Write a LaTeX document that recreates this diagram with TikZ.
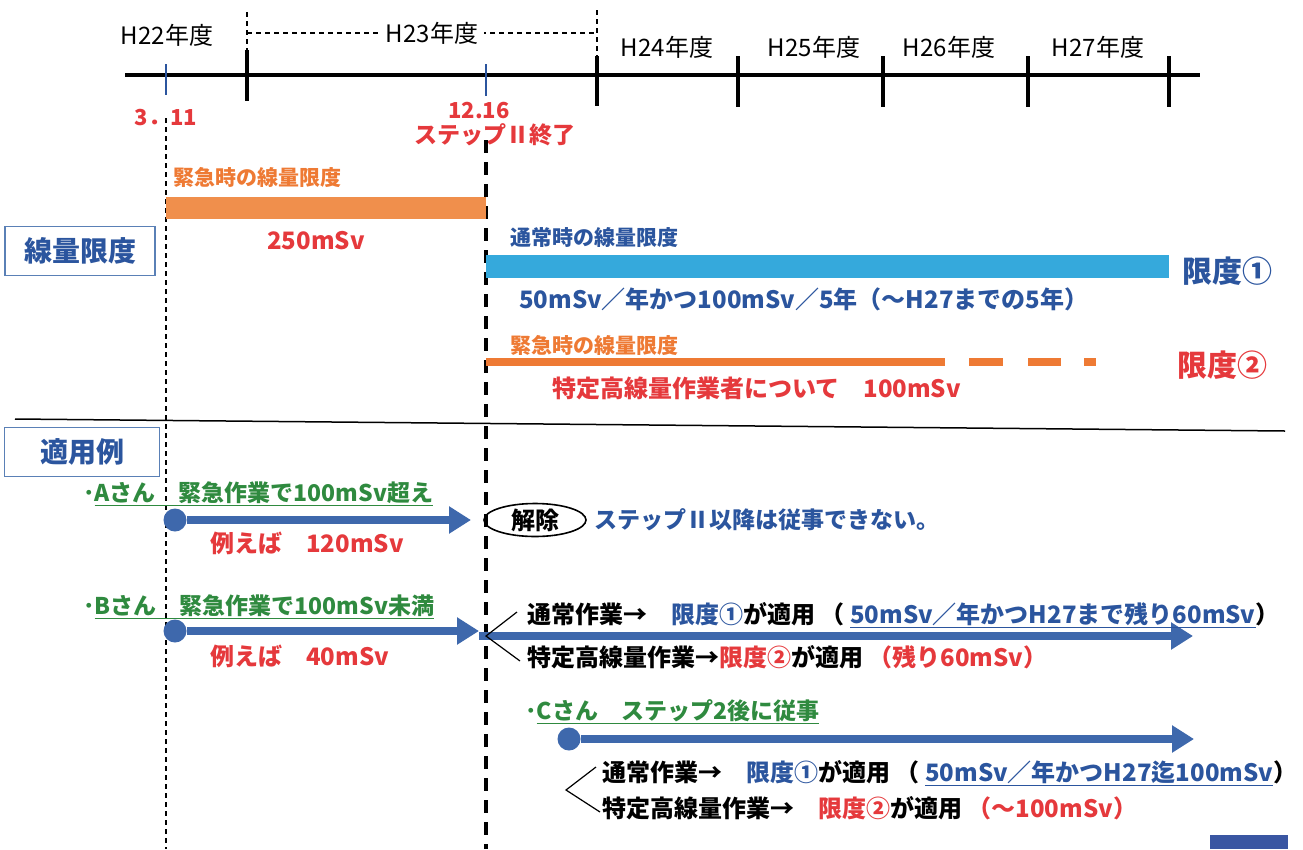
\documentclass[tikz,border=0pt]{standalone}
\usepackage{fontspec}
\setmainfont{Noto Sans CJK JP}
\usetikzlibrary{arrows.meta}
\usetikzlibrary{shapes.geometric}
\definecolor{azul}{HTML}{2B559E}
\definecolor{marco}{HTML}{5A80B6}
\definecolor{celeste}{HTML}{35A9DC}
\definecolor{naranja}{HTML}{F08F4C}
\definecolor{naranjaT}{HTML}{EE7A34}
\definecolor{rojo}{HTML}{E5393C}
\definecolor{verde}{HTML}{2F8A3F}
\definecolor{flecha}{HTML}{3E68AC}
\definecolor{azulosc}{HTML}{3A56A2}
\begin{document}
\begin{tikzpicture}[x=1pt,y=-1pt,
	anio/.style={font=\fontsize{24}{28}\selectfont, inner sep=0pt},
	tx/.style={font=\bfseries\fontsize{#1}{#1}\selectfont, inner sep=0pt, anchor=west},
	tx/.default=24,
	caja/.style={draw=marco, line width=1.5pt, minimum width=#1, minimum height=49pt, inner sep=0pt, text=azul, font=\bfseries\fontsize{28}{28}\selectfont},
	punto/.style={circle, fill=flecha, minimum size=23pt, inner sep=0pt},
	flechaG/.style={line width=8pt, draw=flecha, -{Triangle[length=22pt,width=26pt]}},
	guion/.style={dash pattern=on 5pt off 4pt, line width=1.3pt},
	guionG/.style={dash pattern=on 13pt off 9pt, line width=3.2pt}]
	\useasboundingbox (0,0) rectangle (1303,849);
	\draw[line width=4pt] (125,75) -- (1200,75); %eje de tiempo
	\draw[line width=4pt] (247,50) -- (247,101); %marcas de año
	\draw[line width=4pt] (597,56) -- (597,106);
	\draw[line width=4pt] (738,56) -- (738,107);
	\draw[line width=4pt] (883,56) -- (883,107);
	\draw[line width=4pt] (1028,56) -- (1028,107);
	\draw[line width=4pt] (1169,56) -- (1169,107);
	\draw[azul, line width=1.2pt] (166,64) -- (166,95); %3.11
	\draw[azul, line width=1.2pt] (486,64) -- (486,96); %12.16
	\node[anio] (h22) at (167,35) {H22年度}; %años
	\draw[guion] (247,12) -- (247,50);
	\draw[guion] (597,10) -- (597,56);
	\draw[guion] (247,33) -- (597,33);
	\node[anio, fill=white, inner xsep=6pt] (h23) at (432,33) {H23年度};
	\node[anio] (h24) at (667,47) {H24年度};
	\node[anio] (h25) at (814,47) {H25年度};
	\node[anio] (h26) at (949,47) {H26年度};
	\node[anio] (h27) at (1098,47) {H27年度};
	\node[tx=22, anchor=center, text=rojo] (d311) at (166,118) {3．11}; %fechas
	\node[tx=22, anchor=center, text=rojo] (d1216) at (479,111) {12.16};
	\node[tx=23, anchor=center, text=rojo] (fin) at (495,135) {ステップⅡ終了};
	\draw[guion] (166,118) -- (166,849); %linea 3.11
	\draw[guionG] (486,140) -- (486,849); %linea 12.16
	\node[caja=150pt] (lim) at (80,251) {線量限度}; %seccion superior
	\node[tx=21, text=naranjaT] (em1) at (173,177) {緊急時の線量限度};
	\fill[naranja] (166,197) rectangle (486,219); %barra emergencia
	\node[tx=24, anchor=center, text=rojo] (v250) at (316,241) {250mSv};
	\node[tx=21, text=azul] (nor) at (510,238) {通常時の線量限度};
	\fill[celeste] (486,255) rectangle (1169,278); %barra normal
	\node[tx=30, text=azul] (g1) at (1182,271) {限度①};
	\node[tx=24, text=azul] (v50) at (519,299) {50mSv／年かつ100mSv／5年（～H27までの5年）};
	\node[tx=21, text=naranjaT] (em2) at (510,345) {緊急時の線量限度};
	\fill[naranjaT] (486,358) rectangle (945,366); %barra limite 2
	\fill[naranjaT] (969,358) rectangle (1003,366);
	\fill[naranjaT] (1028,358) rectangle (1061,366);
	\fill[naranjaT] (1084,358) rectangle (1096,366);
	\node[tx=30, text=rojo] (g2) at (1177,365) {限度②};
	\node[tx=24, text=rojo] (v100) at (552,388) {特定高線量作業者について　100mSv};
	\draw[line width=1.5pt] (15,419) -- (1285,431); %separacion
	\node[caja=155pt] (ej) at (82,452) {適用例}; %seccion inferior
	\node[tx=23, text=verde] (nA) at (83,494) {･\underline{Aさん　緊急作業で100mSv超え}}; %caso A
	\node[punto] (pA) at (175,520) {};
	\coordinate (tA) at (471,520);
	\draw[flechaG] (pA) -- (tA);
	\node[tx=24, text=rojo] (rA) at (210,543) {例えば　120mSv};
	\node[ellipse, draw, line width=1.6pt, minimum width=102pt, minimum height=33pt, inner sep=0pt, font=\bfseries\fontsize{24}{24}\selectfont] (kai) at (535,520) {解除};
	\node[tx=23, text=azul] (sA) at (594,520) {ステップⅡ以降は従事できない。};
	\node[tx=23, text=verde] (nB) at (83,607) {･\underline{Bさん　緊急作業で100mSv未満}}; %caso B
	\node[punto] (pB) at (175,631) {};
	\coordinate (tB) at (479,631);
	\draw[flechaG] (pB) -- (tB);
	\node[tx=24, text=rojo] (rB) at (210,656) {例えば　40mSv};
	\coordinate (bB) at (479,636);
	\coordinate (fB) at (1193,636);
	\draw[flechaG] (bB) -- (fB);
	\coordinate (vB) at (486,636); %llave B
	\coordinate (vB1) at (517,612);
	\coordinate (vB2) at (520,661);
	\draw[line width=1.2pt] (vB1) -- (vB) -- (vB2);
	\node[tx] (b1) at (527,615) {通常作業→　\textcolor{azul}{限度①}が適用 （ \textcolor{azul}{\underline{50mSv／年かつH27まで残り60mSv}}）};
	\node[tx] (b2) at (527,657) {特定高線量作業→\textcolor{rojo}{限度②}が適用 \textcolor{rojo}{（残り60mSv）}};
	\node[tx=23, text=verde] (nC) at (525,712) {･\underline{Cさん　ステップ2後に従事}}; %caso C
	\node[punto] (pC) at (569,739) {};
	\coordinate (tC) at (1194,739);
	\draw[flechaG] (pC) -- (tC);
	\coordinate (vC) at (566,790); %llave C
	\coordinate (vC1) at (596,767);
	\coordinate (vC2) at (600,812);
	\draw[line width=1.2pt] (vC1) -- (vC) -- (vC2);
	\node[tx] (c1) at (602,773) {通常作業→　\textcolor{azul}{限度①}が適用 （ \textcolor{azul}{\underline{50mSv／年かつH27迄100mSv}}）};
	\node[tx] (c2) at (602,808) {特定高線量作業→　\textcolor{rojo}{限度②}が適用 \textcolor{rojo}{（～100mSv）}};
	\fill[azulosc] (1210,835) rectangle (1288,849); %recuadro abajo
\end{tikzpicture}
\end{document}
